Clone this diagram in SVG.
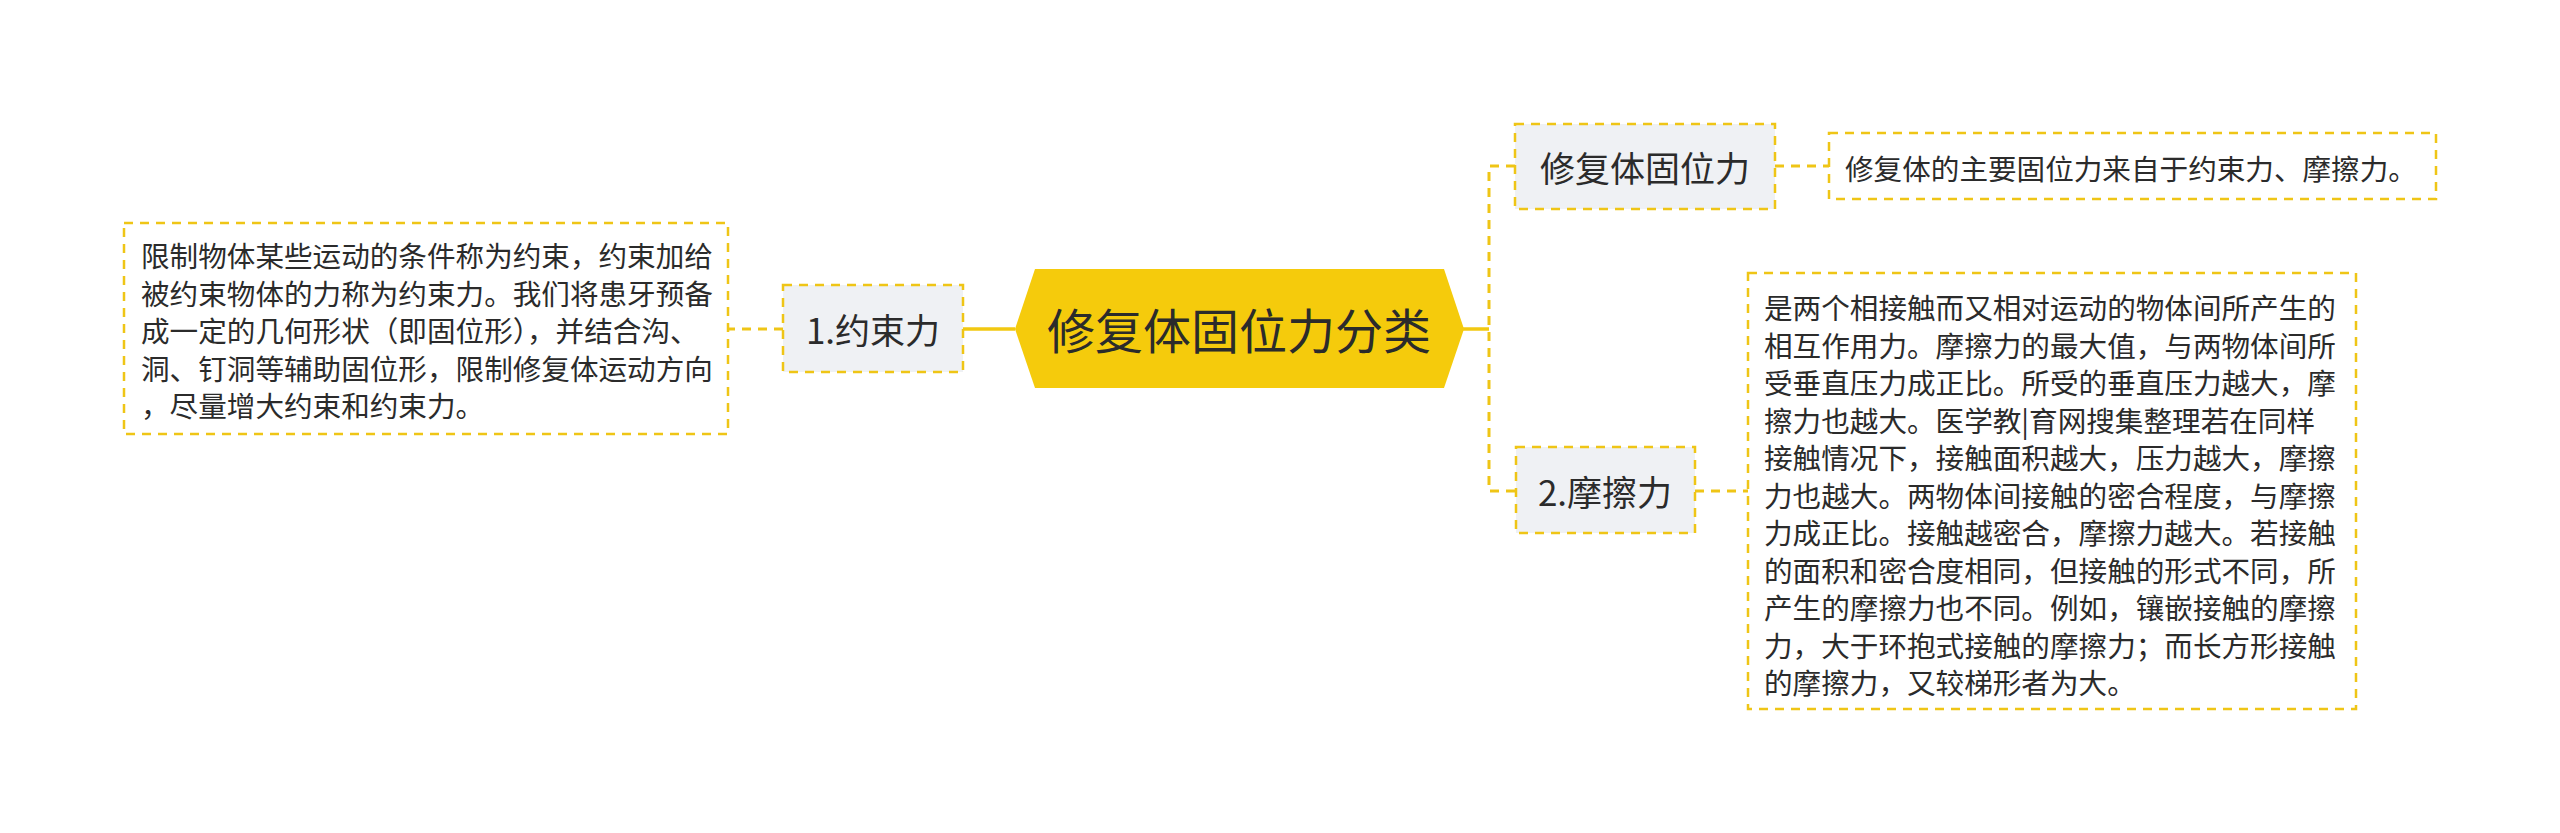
<svg xmlns="http://www.w3.org/2000/svg" width="2560" height="833" viewBox="0 0 2560 833">
<style>
text{font-family:"Noto Sans CJK SC","Noto Sans",sans-serif;fill:#2b2b2b;dominant-baseline:central}
.note{fill:#ffffff;stroke:#efc516;stroke-width:2.5;stroke-dasharray:9 7}
.topic{fill:#eff1f4;stroke:#efc516;stroke-width:2.5;stroke-dasharray:9 7}
.dash{fill:none;stroke:#efc516;stroke-width:3;stroke-dasharray:9 7}
.solid{fill:none;stroke:#f2c811;stroke-width:3.5}
.nt{font-size:28.6px}
.tt{font-size:35px;text-anchor:middle}
</style>
<rect width="2560" height="833" fill="#ffffff"/>
<g id="connectors">
<path class="solid" d="M963,329 H1015"/>
<path class="solid" d="M1463,329 H1489"/>
<path class="dash" d="M1515,166 H1489 V491 H1516"/>
<path class="dash" d="M783,329 H728"/>
<path class="dash" d="M1775,166 H1829"/>
<path class="dash" d="M1695,491 H1748"/>
</g>
<g id="root">
<polygon points="1015,329 1035,269 1444,269 1464,329 1444,388 1035,388" fill="#f5cb0c"/>
<text x="1239" y="328" font-size="48" text-anchor="middle">修复体固位力分类</text>
</g>
<g id="node-yueshu">
<rect class="topic" x="783" y="285" width="180" height="87"/>
<text class="tt" x="873" y="328">1.约束力</text>
</g>
<g id="note-yueshu">
<rect class="note" x="124" y="223" width="604" height="211"/>
<text class="nt">
<tspan x="141" y="254">限制物体某些运动的条件称为约束，约束加给</tspan>
<tspan x="141" y="291.5">被约束物体的力称为约束力。我们将患牙预备</tspan>
<tspan x="141" y="329">成一定的几何形状（即固位形），并结合沟、</tspan>
<tspan x="141" y="366.5">洞、钉洞等辅助固位形，限制修复体运动方向</tspan>
<tspan x="141" y="404">，尽量增大约束和约束力。</tspan>
</text>
</g>
<g id="node-guweili">
<rect class="topic" x="1515" y="124" width="260" height="85"/>
<text class="tt" x="1645" y="166">修复体固位力</text>
</g>
<g id="note-guweili">
<rect class="note" x="1829" y="133" width="607" height="66"/>
<text class="nt" x="1845" y="167">修复体的主要固位力来自于约束力、摩擦力。</text>
</g>
<g id="node-mocali">
<rect class="topic" x="1516" y="447" width="179" height="86"/>
<text class="tt" x="1605" y="490">2.摩擦力</text>
</g>
<g id="note-mocali">
<rect class="note" x="1748" y="273" width="608" height="436"/>
<text class="nt">
<tspan x="1764" y="306">是两个相接触而又相对运动的物体间所产生的</tspan>
<tspan x="1764" y="343.5">相互作用力。摩擦力的最大值，与两物体间所</tspan>
<tspan x="1764" y="381">受垂直压力成正比。所受的垂直压力越大，摩</tspan>
<tspan x="1764" y="418.5">擦力也越大。医学教|育网搜集整理若在同样</tspan>
<tspan x="1764" y="456">接触情况下，接触面积越大，压力越大，摩擦</tspan>
<tspan x="1764" y="493.5">力也越大。两物体间接触的密合程度，与摩擦</tspan>
<tspan x="1764" y="531">力成正比。接触越密合，摩擦力越大。若接触</tspan>
<tspan x="1764" y="568.5">的面积和密合度相同，但接触的形式不同，所</tspan>
<tspan x="1764" y="606">产生的摩擦力也不同。例如，镶嵌接触的摩擦</tspan>
<tspan x="1764" y="643.5">力，大于环抱式接触的摩擦力；而长方形接触</tspan>
<tspan x="1764" y="681">的摩擦力，又较梯形者为大。</tspan>
</text>
</g>
</svg>
